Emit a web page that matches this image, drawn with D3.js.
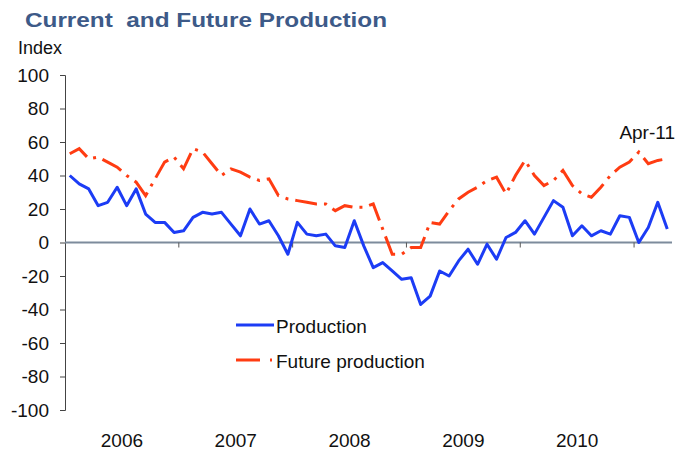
<!DOCTYPE html>
<html>
<head>
<meta charset="utf-8">
<script src="https://cdn.jsdelivr.net/npm/d3@7"></script>
<style>
  body { margin: 0; background: #fff; }
  svg { font-family: "Liberation Sans", Arial, sans-serif; }
</style>
</head>
<body>
<div id="chart"></div>
<script>
// monthly index values, Jan 2006 .. Apr 2011
var years = ['2006', '2007', '2008', '2009', '2010']
var yTicks = [-100, -80, -60, -40, -20, 0, 20, 40, 60, 80, 100]
var production = [
  40, 35, 32, 22, 24, 33, 22, 32, 17, 12, 12, 6,
  7, 15, 18, 17, 18, 11, 4, 20, 11, 13, 4, -7,
  12, 5, 4, 5, -2, -3, 13, -2, -15, -12, -17, -22,
  -21, -37, -32, -17, -20, -11, -4, -13, -1, -10, 3, 6,
  13, 5, 15, 25, 21, 4, 10, 4, 7, 5, 16, 15,
  0, 9, 24, 8
]
var futureProduction = [
  53, 56, 50, 51, 48, 45, 40, 36, 28, 38, 48, 51,
  44, 56, 54, 47, 40, 44, 42, 39, 37, 38, 28, 26,
  25, 24, 23, 23, 19, 22, 21, 21, 23, 8, -7, -7,
  -3, -3, 12, 11, 19, 26, 30, 33, 37, 39, 29, 40,
  49, 40, 34, 37, 43, 34, 29, 27, 33, 40, 45, 48,
  54, 47, 49, 50
]
var seriesNames = ['Production', 'Future production']
var lastLabel = 'Apr-11'

var width = 678, height = 451

var svg = d3.select('#chart')
  .append('svg')
  .attr('width', width)
  .attr('height', height)

var x = d3.scaleLinear().domain([-0.5, 63.5]).range([65, 672])
var y = d3.scaleLinear().domain([-100, 100]).range([410, 75])

var blue = '#1c3cf5'
var orange = '#ff3c12'

// title and axis unit
svg.append('text')
  .attr('x', 25)
  .attr('y', 27)
  .attr('textLength', 362)
  .attr('lengthAdjust', 'spacingAndGlyphs')
  .style('font-size', '21px')
  .style('font-weight', 'bold')
  .style('fill', '#3d5a88')
  .style('white-space', 'pre')
  .text('Current  and Future Production')

svg.append('text')
  .attr('x', 18)
  .attr('y', 54)
  .style('font-size', '18px')
  .style('fill', '#111')
  .text('Index')

// y axis
var yAxis = svg.append('g')
  .attr('transform', 'translate(' + x(-0.5) + ',0)')
  .call(d3.axisLeft(y).tickValues(yTicks).tickSize(5).tickPadding(11)
    .tickFormat(function(d) { return String(d); }))
yAxis.selectAll('text').style('font-size', '19px').style('fill', '#111')
yAxis.selectAll('line,path').attr('stroke', '#444')

// zero line with year ticks
svg.append('line')
  .attr('x1', x(-0.5)).attr('x2', x(63.5))
  .attr('y1', y(0)).attr('y2', y(0))
  .attr('stroke', '#7d8b9c')
  .attr('stroke-width', 2)

svg.selectAll('.yeartick')
  .data(years)
  .enter()
  .append('line')
  .attr('class', 'yeartick')
  .attr('x1', function(d, i) { return x(11.5 + 12 * i); })
  .attr('x2', function(d, i) { return x(11.5 + 12 * i); })
  .attr('y1', y(0))
  .attr('y2', y(0) + 5)
  .attr('stroke', '#555')

svg.selectAll('.yearlabel')
  .data(years)
  .enter()
  .append('text')
  .attr('class', 'yearlabel')
  .attr('x', function(d, i) { return x(5.5 + 12 * i); })
  .attr('y', 447)
  .style('text-anchor', 'middle')
  .style('font-size', '19px')
  .style('fill', '#111')
  .text(function(d) { return d; })

// lines
var line = d3.line()
  .x(function(d, i) { return x(i); })
  .y(function(d) { return y(d); })

svg.append('path')
  .datum(futureProduction)
  .attr('d', line)
  .attr('fill', 'none')
  .attr('stroke', orange)
  .attr('stroke-width', 3)
  .attr('stroke-dasharray', '22,7,3,7')

svg.append('path')
  .datum(production)
  .attr('d', line)
  .attr('fill', 'none')
  .attr('stroke', blue)
  .attr('stroke-width', 3)
  .attr('stroke-linejoin', 'round')

svg.append('text')
  .attr('x', 675)
  .attr('y', 139)
  .style('text-anchor', 'end')
  .style('font-size', '19px')
  .style('fill', '#111')
  .text(lastLabel)

// legend
var legend = svg.selectAll('.legend')
  .data(seriesNames)
  .enter()
  .append('g')
  .attr('class', 'legend')
  .attr('transform', function(d, i) { return 'translate(236,' + (325 + i * 35) + ')'; })

legend.append('line')
  .attr('x1', 0).attr('x2', function(d, i) { return i == 0 ? 38 : 37; })
  .attr('y1', 0).attr('y2', 0)
  .attr('stroke', function(d, i) { return i == 0 ? blue : orange; })
  .attr('stroke-width', 3)
  .attr('stroke-dasharray', function(d, i) { return i == 0 ? null : '24,10,2,10'; })

legend.append('text')
  .attr('x', 40)
  .attr('y', 8)
  .style('font-size', '19px')
  .style('fill', '#111')
  .text(function(d) { return d; })
</script>
</body>
</html>
